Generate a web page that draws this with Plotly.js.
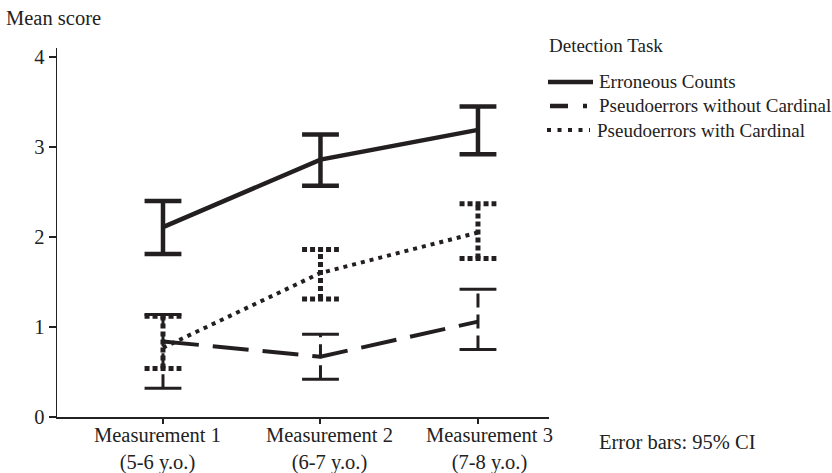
<!DOCTYPE html>
<html><head><meta charset="utf-8">
<script src="https://cdn.plot.ly/plotly-3.0.1.min.js"></script>
<style>html,body{margin:0;padding:0;background:#fff}#chart{width:832px;height:473px}</style>
</head><body><div id="chart"></div>
<script>
const measurements = ["Measurement 1", "Measurement 2", "Measurement 3"];
const ages = ["(5-6 y.o.)", "(6-7 y.o.)", "(7-8 y.o.)"];
const seriesNames = ["Erroneous Counts", "Pseudoerrors without Cardinal", "Pseudoerrors with Cardinal"];
const erroneousMean = [2.11, 2.86, 3.19];
const erroneousLow = [1.81, 2.57, 2.92];
const erroneousHigh = [2.40, 3.14, 3.45];
const withoutMean = [0.84, 0.67, 1.06];
const withoutLow = [0.32, 0.42, 0.75];
const withoutHigh = [1.14, 0.92, 1.42];
const withMean = [0.77, 1.60, 2.05];
const withLow = [0.54, 1.31, 1.76];
const withHigh = [1.12, 1.86, 2.37];
const yTicks = [0, 1, 2, 3, 4];

const ink = '#231f20';
const idx = measurements.map((_, i) => i);
const CAP = 0.117;
const labelShift = [-5, 9, 12];

const W = 832, H = 473, M = {l: 57, r: 283, t: 48, b: 56};
const pw = W - M.l - M.r, ph = H - M.t - M.b;
const px = v => (v - M.l) / pw;
const py = v => (H - M.b - v) / ph;

function stems(lo, hi, line) {
  const x = [], y = [];
  idx.forEach(i => { x.push(i, i, null); y.push(lo[i], hi[i], null); });
  return {x, y, mode: 'lines', line, showlegend: false, hoverinfo: 'skip'};
}
function caps(lo, hi, line) {
  const x = [], y = [];
  idx.forEach(i => {
    x.push(i - CAP, i + CAP, null, i - CAP, i + CAP, null);
    y.push(hi[i], hi[i], null, lo[i], lo[i], null);
  });
  return {x, y, mode: 'lines', line, showlegend: false, hoverinfo: 'skip'};
}

const seriesLines = [
  {color: ink, width: 4.5},
  {color: ink, width: 4, dash: '36px,14px'},
  {color: ink, width: 4, dash: '4px,5px'}
];
const legendLines = [
  {color: ink, width: 4.5},
  {color: ink, width: 4.5, dash: '18px,15px,4px,100px'},
  {color: ink, width: 4, dash: '4px,6.5px'}
];
const legendLineX = [[548, 593], [550, 593], [547, 590]];

const traces = [
  stems(withoutLow, withoutHigh, {color: ink, width: 3, dash: '14px,7px'}),
  caps(withoutLow, withoutHigh, {color: ink, width: 3}),
  stems(withLow, withHigh, {color: ink, width: 5, dash: '5px,3px'}),
  caps(withLow, withHigh, {color: ink, width: 5, dash: '5px,3px'}),
  stems(erroneousLow, erroneousHigh, {color: ink, width: 4.5}),
  caps(erroneousLow, erroneousHigh, {color: ink, width: 4.5}),
  {x: idx, y: erroneousMean, mode: 'lines', name: seriesNames[0], line: seriesLines[0]},
  {x: idx, y: withoutMean, mode: 'lines', name: seriesNames[1], line: seriesLines[1]},
  {x: idx, y: withMean, mode: 'lines', name: seriesNames[2], line: seriesLines[2]}
];

const fam = 'Liberation Serif, Times New Roman, serif';
const legendRowsY = [82, 106, 130];
const shapes = [], annotations = [
  {text: 'Mean score', xref: 'paper', yref: 'paper', x: px(4), y: py(18), xanchor: 'left', yanchor: 'middle', showarrow: false, font: {size: 20.5}},
  {text: 'Detection Task', xref: 'paper', yref: 'paper', x: px(547), y: py(45), xanchor: 'left', yanchor: 'middle', showarrow: false, font: {size: 19}},
  {text: 'Error bars: 95% CI', xref: 'paper', yref: 'paper', x: px(597), y: py(442), xanchor: 'left', yanchor: 'middle', showarrow: false, font: {size: 20.5}}
];
measurements.forEach((m, i) => {
  annotations.push({text: m + '<br>' + ages[i], xref: 'x', yref: 'paper', x: i, y: 0, xshift: labelShift[i], yshift: -5,
                    xanchor: 'center', yanchor: 'top', align: 'center', showarrow: false, font: {size: 20.5}});
});
seriesNames.forEach((name, k) => {
  shapes.push({type: 'line', xref: 'paper', yref: 'paper', x0: px(legendLineX[k][0]), x1: px(legendLineX[k][1]),
               y0: py(legendRowsY[k]), y1: py(legendRowsY[k]), line: legendLines[k]});
  annotations.push({text: name, xref: 'paper', yref: 'paper', x: px(k === 2 ? 595 : 597), y: py(legendRowsY[k]),
                    xanchor: 'left', yanchor: 'middle', showarrow: false, font: {size: 19}});
});

const layout = {
  width: W, height: H,
  margin: M,
  paper_bgcolor: '#fff', plot_bgcolor: '#fff',
  font: {family: fam, size: 20, color: '#222'},
  showlegend: false,
  xaxis: {range: [-0.673, 2.451], tickvals: idx, showticklabels: false, showgrid: false, zeroline: false,
          showline: true, linecolor: '#222', linewidth: 1.5, ticks: 'outside', ticklen: 5, tickwidth: 2, tickcolor: '#222'},
  yaxis: {range: [0, 4.1], tickvals: yTicks, showgrid: false, zeroline: false,
          showline: true, linecolor: '#222', linewidth: 1.5, ticks: 'outside', ticklen: 7, tickwidth: 2, tickcolor: '#222',
          tickfont: {size: 20.5}},
  shapes: shapes,
  annotations: annotations
};
Plotly.newPlot('chart', traces, layout, {staticPlot: true, displayModeBar: false});
</script></body></html>
